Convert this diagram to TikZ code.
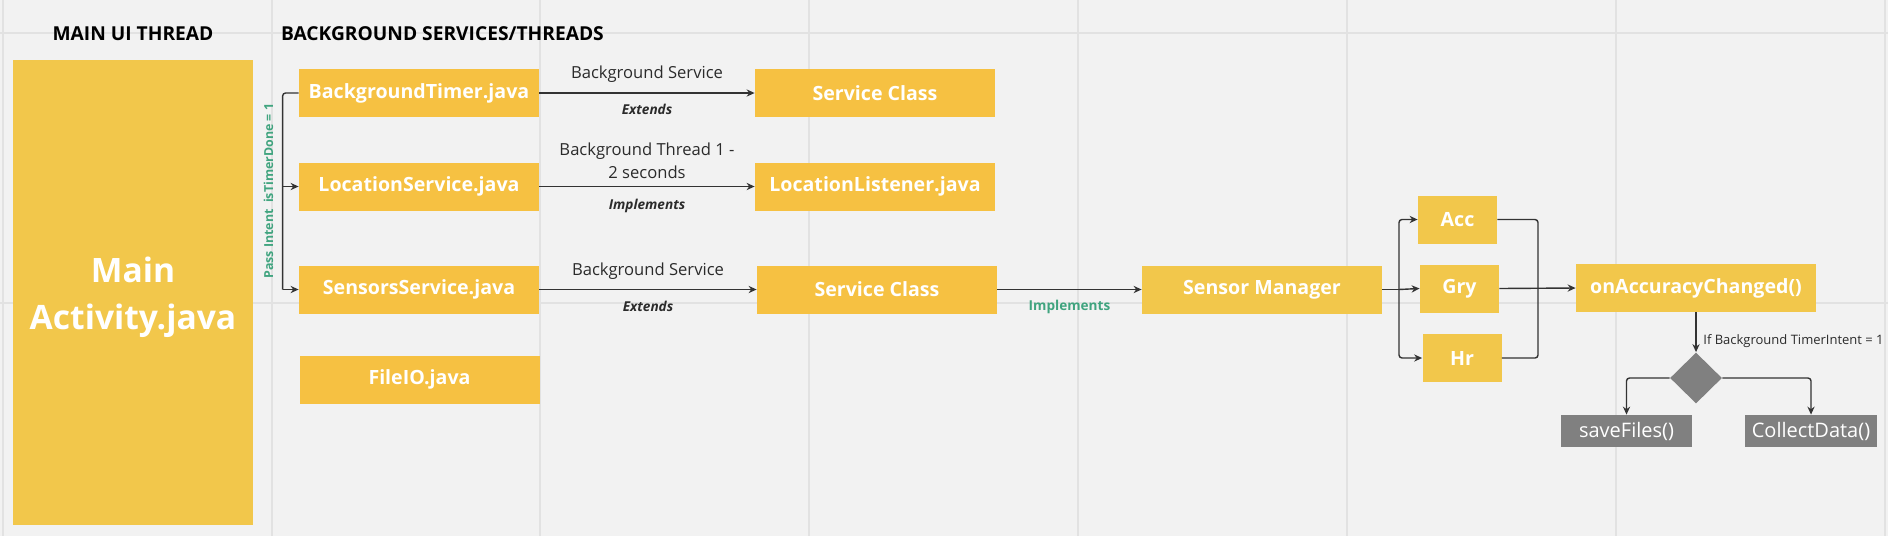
\documentclass[tikz,border=0pt]{standalone}
\usepackage{fontspec}
\setmainfont{Open Sans}
\usepackage{tikz}
\usetikzlibrary{arrows.meta,shapes.geometric}

\definecolor{bgfill}{HTML}{F2F2F2}
\definecolor{gridgray}{HTML}{E2E2E2}
\definecolor{boxyellow}{HTML}{F6C142}
\definecolor{sensyellow}{HTML}{F2C74B}
\definecolor{boxgray}{HTML}{808080}
\definecolor{passgreen}{HTML}{40A47F}
\definecolor{linegray}{HTML}{333333}
\definecolor{labeldark}{HTML}{2B2B2B}

\begin{document}
	\begin{tikzpicture}[x=0.5pt, y=-0.5pt,
		gridline/.style={line width=1pt, gridgray},
		ybox/.style={fill=boxyellow, text=white, font=\bfseries\fontsize{9.8}{12}\selectfont, minimum width=120pt, minimum height=24pt, inner sep=0pt},
		sbox/.style={ybox, fill=sensyellow, minimum width=39.5pt},
		gbox/.style={fill=boxgray, text=white, font=\fontsize{10}{12}\selectfont, minimum height=16pt, inner sep=0pt},
		conn/.style={draw=linegray, line width=0.7pt, -{Stealth[length=4pt,width=3.6pt]}, rounded corners=1.5pt},
		wire/.style={draw=linegray, line width=0.7pt, rounded corners=1.5pt},
		elabel/.style={text=labeldark, font=\fontsize{8.3}{11.5}\selectfont, align=center},
		kind/.style={text=labeldark, font=\bfseries\itshape\fontsize{6.8}{8}\selectfont},
		greenlabel/.style={text=passgreen, font=\bfseries\fontsize{6.8}{8}\selectfont},
		heading/.style={text=black, font=\bfseries\fontsize{9.6}{11}\selectfont}]
		\useasboundingbox (0,0) rectangle (1888,536);
		\fill[bgfill] (0,0) rectangle (1888,536);
		\foreach \gx in {3,272,540,809,1078,1347,1616,1885}
			\draw[gridline] (\gx,0) -- (\gx,536);
		\foreach \gy in {33,303}
			\draw[gridline] (0,\gy) -- (1888,\gy);

		\node[heading] (mainhead) at (133,34) {MAIN UI THREAD};
		\node[heading, anchor=west] (bghead) at (274,34) {BACKGROUND SERVICES/THREADS};

		\node[fill=sensyellow, minimum width=120pt, minimum height=232.5pt,
			label={[text=white, align=center, yshift=-2.5pt, font=\bfseries\fontsize{16.8}{23.5}\selectfont]center:Main\\Activity.java}] (mainact) at (133,292.5) {};

		\node[ybox] (bgtimer) at (419,93) {BackgroundTimer.java};
		\node[ybox] (locsvc) at (419,186.5) {LocationService.java};
		\node[ybox] (sensvc) at (419,289.5) {SensorsService.java};
		\node[ybox] (fileio) at (419.5,379.5) {FileIO.java};

		\node[ybox] (svcone) at (875,93) {Service Class};
		\node[ybox] (loclisten) at (875,186.5) {LocationListener.java};
		\node[ybox] (svctwo) at (877,289.5) {Service Class};

		\node[ybox, fill=sensyellow] (sensmgr) at (1262,289.5) {Sensor Manager};
		\node[sbox] (acc) at (1457.5,219.5) {Acc};
		\node[sbox] (gry) at (1459.5,288.5) {Gry};
		\node[sbox] (hr) at (1462,358) {Hr};
		\node[ybox, fill=sensyellow] (onacc) at (1696,288) {onAccuracyChanged()};

		\node[diamond, fill=boxgray, minimum width=26pt, minimum height=25.5pt, inner sep=0pt] (decide) at (1696,378) {};
		\node[gbox, minimum width=65.5pt] (savefiles) at (1626.5,431) {saveFiles()};
		\node[gbox, minimum width=66pt] (collect) at (1811,431) {CollectData()};

		\draw[wire] (bgtimer.west) -| ([xshift=-8pt]sensvc.west) node[pos=0.75, left=1pt, rotate=90, anchor=south, greenlabel, font=\bfseries\fontsize{6.2}{7}\selectfont] (passlbl) {Pass Intent\ \ isTimerDone = 1};
		\draw[conn] ([xshift=-8pt]locsvc.west) -- (locsvc.west);
		\draw[conn] ([xshift=-8pt]sensvc.west) -- (sensvc.west);

		\draw[conn] (bgtimer.east) -- (svcone.west)
			node[midway, above=1.5pt, elabel] {Background Service}
			node[midway, below=2pt, kind] {Extends};
		\draw[conn] (locsvc.east) -- (loclisten.west)
			node[midway, above=0pt, elabel] {Background Thread 1 -\\2 seconds}
			node[midway, below=2.5pt, kind] {Implements};
		\draw[conn] (sensvc.east) -- (svctwo.west)
			node[midway, above=1.5pt, elabel] {Background Service}
			node[midway, below=2pt, kind] {Extends};
		\draw[conn] (svctwo.east) -- (sensmgr.west)
			node[midway, below=1.5pt, greenlabel] {Implements};

		\coordinate (split) at (1399,289.5);
		\draw[wire] (sensmgr.east) -- (split);
		\draw[conn] (split) |- (acc.west);
		\draw[conn] (split) -- (gry.west);
		\draw[conn] (split) |- (hr.west);

		\coordinate (merge) at (1538,288);
		\draw[wire] (acc.east) -| (merge);
		\draw[wire] (hr.east) -| (merge);
		\draw[conn] (gry.east) -- (onacc.west);

		\draw[conn] (onacc.south) -- (decide.north)
			node[pos=0.72, right=0pt, text=labeldark, font=\fontsize{6.5}{8}\selectfont] {If Background TimerIntent = 1};
		\draw[conn] (decide.west) -| (savefiles.north);
		\draw[conn] (decide.east) -| (collect.north);
	\end{tikzpicture}
\end{document}
